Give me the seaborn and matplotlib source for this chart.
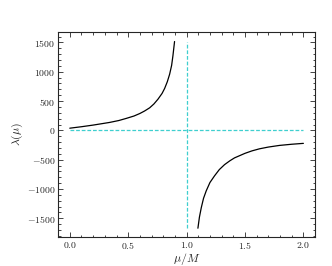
import matplotlib
matplotlib.use("Agg")
import matplotlib.pyplot as plt
import seaborn as sns
import pandas as pd
from matplotlib.ticker import MultipleLocator, FuncFormatter

# values
x_left = [0.0, 0.1, 0.2, 0.34, 0.42, 0.485, 0.55, 0.6, 0.64, 0.684, 0.72, 0.755, 0.79, 0.812,
          0.835, 0.855, 0.872, 0.883, 0.897]
y_left = [37, 62, 90, 135, 168, 205, 245, 288, 330, 385, 450, 532, 630, 715,
          830, 959, 1110, 1272, 1516]
x_right = [1.097, 1.11, 1.126, 1.145, 1.168, 1.2, 1.239, 1.28, 1.325, 1.37, 1.41, 1.5, 1.56,
           1.624, 1.7, 1.795, 1.9, 2.0]
y_right = [-1670, -1480, -1318, -1160, -1033, -890, -777, -670, -585, -520, -470, -392, -350,
           -315, -285, -257, -237, -222]
x_ref = [0.0, 2.0]
y_ref = [0, 0]
v_x = [1.0, 1.0]
v_y = [-1670, 1500]

sns.set_style("ticks")
plt.rcParams["mathtext.fontset"] = "cm"
plt.rcParams["font.family"] = ["DejaVu Serif"]

fig = plt.figure(figsize=(3.32, 2.66), dpi=100)
ax = fig.add_axes([0.175, 0.109, 0.774, 0.771])

left = pd.DataFrame({"x": x_left, "y": y_left})
right = pd.DataFrame({"x": x_right, "y": y_right})
sns.lineplot(data=left, x="x", y="y", color="black", lw=0.9, ax=ax, sort=False)
sns.lineplot(data=right, x="x", y="y", color="black", lw=0.9, ax=ax, sort=False)
sns.lineplot(x=x_ref, y=y_ref, color="#3fcfcf", lw=0.9, ls=(0, (3, 1.5)), ax=ax)
ax.plot(v_x, v_y, color="#3fcfcf", lw=0.9, ls=(0, (3, 1.5)))

ax.set_xlim(-0.1, 2.1)
ax.set_ylim(-1820, 1680)
ax.xaxis.set_major_locator(MultipleLocator(0.5))
ax.xaxis.set_minor_locator(MultipleLocator(0.1))
ax.yaxis.set_major_locator(MultipleLocator(500))
ax.yaxis.set_minor_locator(MultipleLocator(100))
ax.xaxis.set_major_formatter(FuncFormatter(lambda v, p: r"$%.1f$" % v))
ax.yaxis.set_major_formatter(FuncFormatter(lambda v, p: r"$%d$" % round(v)))
ax.tick_params(which="both", direction="in", top=True, right=True, labelsize=7, width=0.6, pad=2)
ax.tick_params(which="major", length=3.5)
ax.tick_params(which="minor", length=1.8)
for s in ax.spines.values():
    s.set_linewidth(0.8)

ax.set_xlabel(r"$\mu/M$", fontsize=8.5, labelpad=0)
ax.set_ylabel(r"$\lambda(\mu)$", fontsize=8.5, labelpad=1)

fig.savefig("out.png", dpi=100)
